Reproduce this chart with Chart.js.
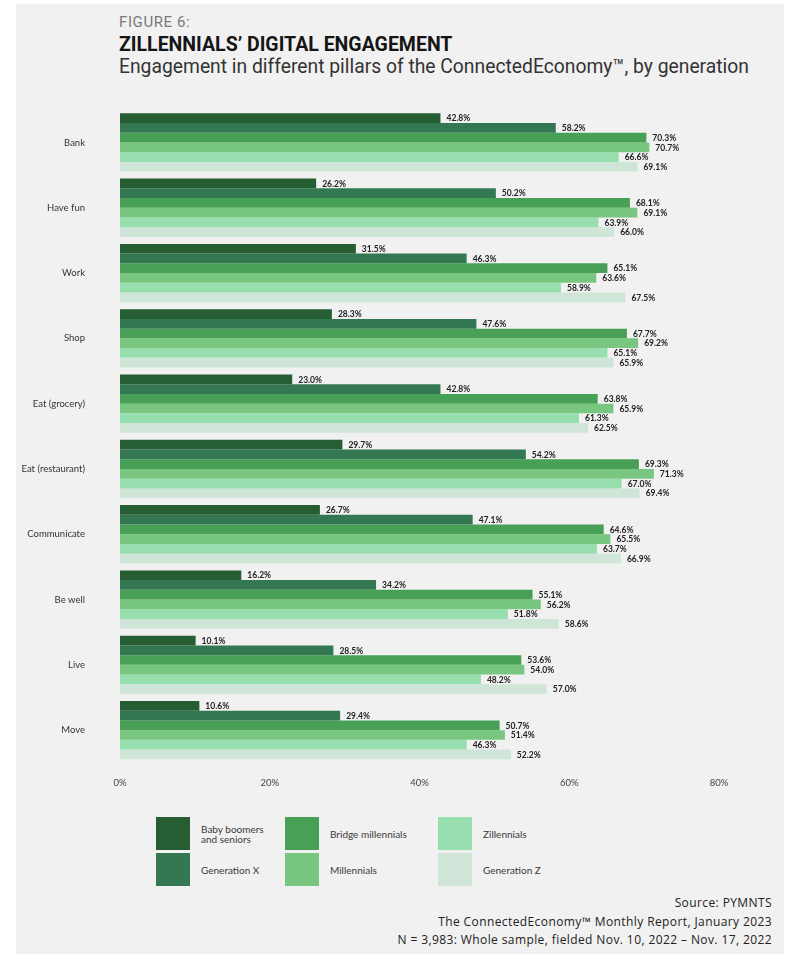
<!DOCTYPE html>
<html>
<head>
<meta charset="utf-8">
<script src="https://cdn.jsdelivr.net/npm/chart.js@4"></script>
<style>
  html, body { margin: 0; padding: 0; background: #ffffff; }
  #wrap { position: relative; width: 800px; height: 960px; overflow: hidden; }
  #panel { position: absolute; left: 16px; top: 4px; width: 768px; height: 950px; background: #f1f1f1; }
  .t { position: absolute; white-space: nowrap; line-height: 1; }
  #fig { left: 119px; top: 13px; font: 400 15px Roboto, sans-serif; color: #7a7a7a; letter-spacing: 0.6px; }
  #title { left: 119px; top: 33px; font: 700 19.5px Roboto, sans-serif; color: #151515; }
  #sub { left: 119px; top: 55px; font: 400 19.3px Roboto, sans-serif; color: #333; }
  #src { position: absolute; right: 28px; top: 894px; text-align: right; font: 400 12px "Open Sans", sans-serif; letter-spacing: 0.4px; color: #222; line-height: 18.5px; white-space: nowrap; }
  #chart { position: absolute; left: 0; top: 100px; }
  .sw { position: absolute; width: 34px; height: 33px; }
  .lt { position: absolute; font: 400 10px Lato, sans-serif; color: #3a3a3a; line-height: 10.5px; white-space: nowrap; transform: translateY(-50%); }
</style>
</head>
<body>
<div id="wrap">
  <div id="panel"></div>
  <div class="t" id="fig">FIGURE 6:</div>
  <div class="t" id="title">ZILLENNIALS’ DIGITAL ENGAGEMENT</div>
  <div class="t" id="sub">Engagement in different pillars of the ConnectedEconomy™, by generation</div>
  <canvas id="chart" width="800" height="700"></canvas>
  <div id="legend"></div>
  <div id="src">Source: PYMNTS<br>The ConnectedEconomy™ Monthly Report, January 2023<br>N = 3,983: Whole sample, fielded Nov. 10, 2022 – Nov. 17, 2022</div>
</div>
<script>
// ---- Data ----
const categories = ["Bank", "Have fun", "Work", "Shop", "Eat (grocery)", "Eat (restaurant)", "Communicate", "Be well", "Live", "Move"];
const seriesNames = [["Baby boomers", "and seniors"], "Generation X", "Bridge millennials", "Millennials", "Zillennials", "Generation Z"];
const babyBoomers = [42.8, 26.2, 31.5, 28.3, 23.0, 29.7, 26.7, 16.2, 10.1, 10.6];
const generationX = [58.2, 50.2, 46.3, 47.6, 42.8, 54.2, 47.1, 34.2, 28.5, 29.4];
const bridgeMillennials = [70.3, 68.1, 65.1, 67.7, 63.8, 69.3, 64.6, 55.1, 53.6, 50.7];
const millennials = [70.7, 69.1, 63.6, 69.2, 65.9, 71.3, 65.5, 56.2, 54.0, 51.4];
const zillennials = [66.6, 63.9, 58.9, 65.1, 61.3, 67.0, 63.7, 51.8, 48.2, 46.3];
const generationZ = [69.1, 66.0, 67.5, 65.9, 62.5, 69.4, 66.9, 58.6, 57.0, 52.2];
const xTicks = [0, 20, 40, 60, 80];

const colors = ["#275d33", "#337852", "#48a057", "#78c67f", "#98dfb0", "#cfe5d8"];
const seriesData = [babyBoomers, generationX, bridgeMillennials, millennials, zillennials, generationZ];

const datasets = seriesData.map((d, i) => ({
  label: seriesNames[i],
  data: d,
  backgroundColor: colors[i],
  borderWidth: 0,
  categoryPercentage: 0.893,
  barPercentage: 1.0
}));

const valueLabels = {
  id: 'valueLabels',
  afterDatasetsDraw(chart) {
    const ctx = chart.ctx;
    ctx.save();
    ctx.font = '700 8.5px Lato, sans-serif';
    ctx.fillStyle = '#222';
    ctx.textAlign = 'left';
    ctx.textBaseline = 'middle';
    chart.data.datasets.forEach((ds, i) => {
      const meta = chart.getDatasetMeta(i);
      meta.data.forEach((el, j) => {
        ctx.fillText(ds.data[j].toFixed(1) + '%', el.x + 6, el.y + 0.5);
      });
    });
    ctx.restore();
  }
};

const chart = new Chart(document.getElementById('chart'), {
  type: 'bar',
  data: { labels: categories, datasets },
  options: {
    indexAxis: 'y',
    responsive: false,
    animation: false,
    devicePixelRatio: 1,
    layout: { padding: { left: 0, right: 81, top: 9.8, bottom: 0 } },
    plugins: { legend: { display: false }, tooltip: { enabled: false }, title: { display: false } },
    scales: {
      x: {
        min: 0, max: 80,
        afterBuildTicks: s => { s.ticks = xTicks.map(v => ({ value: v })); },
        afterFit: s => { s.height = 37.2; },
        grid: { display: false, drawTicks: false },
        border: { display: false },
        ticks: { padding: 14, color: '#444', font: { family: 'Lato', size: 9.5 }, callback: v => v + '%' }
      },
      y: {
        afterFit: s => { s.width = 120; s.paddingTop = 0; s.paddingBottom = 0; },
        grid: { display: false, drawTicks: false },
        border: { display: false },
        ticks: { padding: 35, color: '#333', font: { family: 'Lato', size: 9.5 } }
      }
    }
  },
  plugins: [valueLabels]
});

// ---- HTML legend built from series ----
const legend = document.getElementById('legend');
const colX = [156, 285, 438];
const rowY = [817, 853];
seriesNames.forEach((name, i) => {
  const col = Math.floor(i / 2), row = i % 2;
  const sw = document.createElement('div');
  sw.className = 'sw';
  sw.style.left = colX[col] + 'px';
  sw.style.top = rowY[row] + 'px';
  sw.style.background = colors[i];
  legend.appendChild(sw);
  const t = document.createElement('div');
  t.className = 'lt';
  t.style.left = (colX[col] + 45) + 'px';
  t.style.top = (rowY[row] + 16.5) + 'px';
  t.innerHTML = Array.isArray(name) ? name.join('<br>') : name;
  legend.appendChild(t);
});
</script>
</body>
</html>
